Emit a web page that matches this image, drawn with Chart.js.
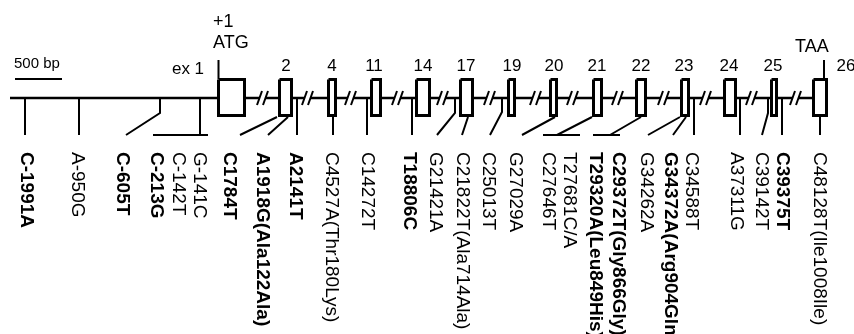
<!DOCTYPE html>
<html>
<head>
<meta charset="utf-8">
<script src="https://cdn.jsdelivr.net/npm/chart.js@4.4.1/dist/chart.umd.min.js"></script>
<style>
  body { margin: 0; background: #fff; }
  canvas { display: block; }
</style>
</head>
<body>
<canvas id="geneChart" width="854" height="334"></canvas>
<script>
// exons along the (not to scale) diagram axis
const exonNames = ['ex 1', '2', '4', '11', '14', '17', '19', '20', '21', '22', '23', '24', '25', '26'];
const exonStart = [217, 278, 327, 370, 415, 459, 507, 549, 592, 635, 680, 723, 770, 812];
const exonEnd = [246, 293, 337, 382, 431, 474, 516, 558, 603, 647, 690, 737, 778, 828];
const exonLabelX = [188, 286, 332, 374, 423, 466, 512, 554, 597, 641, 684, 729, 773, 846];
const breakX = [264, 309, 352, 399, 444, 491, 537, 574, 619, 665, 707, 753, 797];

// variants, read top-down under the gene
const variantNames = ['C-1991A', 'A-950G', 'C-605T', 'C-213G', 'C-142T', 'G-141C', 'C1784T',
  'A1918G(Ala122Ala)', 'A2141T', 'C4527A(Thr180Lys)', 'C14272T', 'T18806C', 'G21421A',
  'C21822T(Ala714Ala)', 'C25013T', 'G27029A', 'C27646T', 'T27681C/A', 'T29320A(Leu849His)',
  'C29372T(Gly866Gly)', 'G34262A', 'G34372A(Arg904Gln)', 'C34588T', 'A37311G', 'C39142T',
  'C39375T', 'C48128T(Ile1008Ile)'];
const variantBold = [1, 0, 1, 1, 0, 0, 1, 1, 1, 0, 0, 1, 0, 0, 0, 0, 0, 0, 1, 1, 0, 1, 0, 0, 0, 1, 0];
const variantX = [26, 77, 122, 156, 178, 199, 229, 262, 295, 331, 367, 409, 435, 462, 488, 515,
  548, 569, 595, 618, 646, 670, 691, 736, 761, 782, 819];

// connector lines from the gene down to the labels
const siteAnchorX = [25, 79, 160, 200, 277, 288, 297, 333, 367, 412, 455, 468, 502, 555, 592, 641, 680, 686, 694, 740, 768, 782, 820];
const siteFromExon = [0, 0, 0, 0, 1, 1, 0, 1, 0, 0, 0, 1, 0, 1, 1, 1, 1, 1, 0, 0, 0, 0, 1];
const siteKneeY = [null, null, 113, null, null, null, null, null, null, null, 113, null, 112, null, null, null, null, null, null, null, 113, null, null];
const siteFootX = [25, 79, 126, 200, 240, 268, 297, 333, 367, 412, 437, 462, 490, 522, 557, 610, 648, 673, 694, 740, 762, 782, 820];
const siteSpan = [null, null, null, [153, 208], null, null, null, null, null, null, null, null, null, null, [543, 580], [593, 620], null, null, null, null, null, null, null];

// small texts above the gene
const annoText = ['500 bp', '+1', 'ATG', 'TAA'];
const annoX = [14, 213, 213, 795];
const annoY = [68, 27, 48, 52];

const lineY = 98, boxTop = 79.5, boxBottom = 115.5, footY = 135, labelY = 152;
const gap = { x: 0, y: null };

// backbone, broken at every //
const backbone = [{ x: 10, y: lineY }, { x: exonStart[0], y: lineY }, gap];
for (let i = 0; i < breakX.length; i++) {
  backbone.push({ x: exonEnd[i], y: lineY }, { x: breakX[i] - 4.5, y: lineY }, gap);
  backbone.push({ x: breakX[i] + 1.5, y: lineY }, { x: exonStart[i + 1], y: lineY }, gap);
}

const slashes = [];
breakX.forEach(c => {
  slashes.push({ x: c - 7, y: 105 }, { x: c - 2, y: 91 }, gap);
  slashes.push({ x: c - 1, y: 105 }, { x: c + 4, y: 91 }, gap);
});

const boxes = [];
exonStart.forEach((s, i) => {
  const l = s + 1.5, r = exonEnd[i] - 1.5;
  boxes.push({ x: l, y: boxTop }, { x: r, y: boxTop }, { x: r, y: boxBottom },
    { x: l, y: boxBottom }, { x: l, y: boxTop }, gap);
});

const connectors = [];
siteAnchorX.forEach((ax, i) => {
  connectors.push({ x: ax, y: siteFromExon[i] ? 117 : lineY });
  if (siteKneeY[i] !== null) connectors.push({ x: ax, y: siteKneeY[i] });
  connectors.push({ x: siteFootX[i], y: footY }, gap);
  if (siteSpan[i]) connectors.push({ x: siteSpan[i][0], y: footY }, { x: siteSpan[i][1], y: footY }, gap);
});

const marks = [
  { x: 218.5, y: 60 }, { x: 218.5, y: 79 }, gap,
  { x: 824, y: 60 }, { x: 824, y: 78 }, gap,
  { x: 15, y: 79 }, { x: 62, y: 79 }
];

const FONT = '"Liberation Sans", Arial, sans-serif';

const textPlugin = {
  id: 'geneText',
  afterDatasetsDraw(chart) {
    const ctx = chart.ctx;
    const sx = chart.scales.x, sy = chart.scales.y;
    ctx.save();
    ctx.fillStyle = '#000';
    ctx.textBaseline = 'alphabetic';
    ctx.textAlign = 'left';
    annoText.forEach((t, i) => {
      ctx.font = (i === 0 ? '15px ' : '18px ') + FONT;
      ctx.fillText(t, sx.getPixelForValue(annoX[i]), sy.getPixelForValue(annoY[i]));
    });
    ctx.textAlign = 'center';
    exonNames.forEach((n, i) => {
      ctx.font = '17px ' + FONT;
      ctx.fillText(n, sx.getPixelForValue(exonLabelX[i]), sy.getPixelForValue(i === 0 ? 74 : 71));
    });
    ctx.textAlign = 'left';
    ctx.textBaseline = 'middle';
    variantNames.forEach((n, i) => {
      ctx.save();
      ctx.translate(sx.getPixelForValue(variantX[i]), sy.getPixelForValue(labelY));
      ctx.rotate(Math.PI / 2);
      ctx.font = (variantBold[i] ? 'bold ' : '') + '19px ' + FONT;
      ctx.fillText(n, 0, 0);
      ctx.restore();
    });
    ctx.restore();
  }
};

function lineSet(data, width) {
  return {
    type: 'line', data: data, borderColor: '#000', borderWidth: width,
    pointRadius: 0, fill: false, tension: 0, spanGaps: false,
    borderJoinStyle: 'miter', borderCapStyle: 'butt'
  };
}

new Chart(document.getElementById('geneChart'), {
  type: 'scatter',
  data: {
    datasets: [
      lineSet(backbone, 2.5),
      lineSet(slashes, 2),
      lineSet(connectors, 2),
      lineSet(marks, 2),
      lineSet(boxes, 3)
    ]
  },
  options: {
    responsive: false,
    animation: false,
    layout: { padding: 0 },
    plugins: { legend: { display: false }, tooltip: { enabled: false } },
    scales: {
      x: { type: 'linear', min: 0, max: 854, display: false },
      y: { type: 'linear', min: 0, max: 334, reverse: true, display: false }
    }
  },
  plugins: [textPlugin]
});
</script>
</body>
</html>
